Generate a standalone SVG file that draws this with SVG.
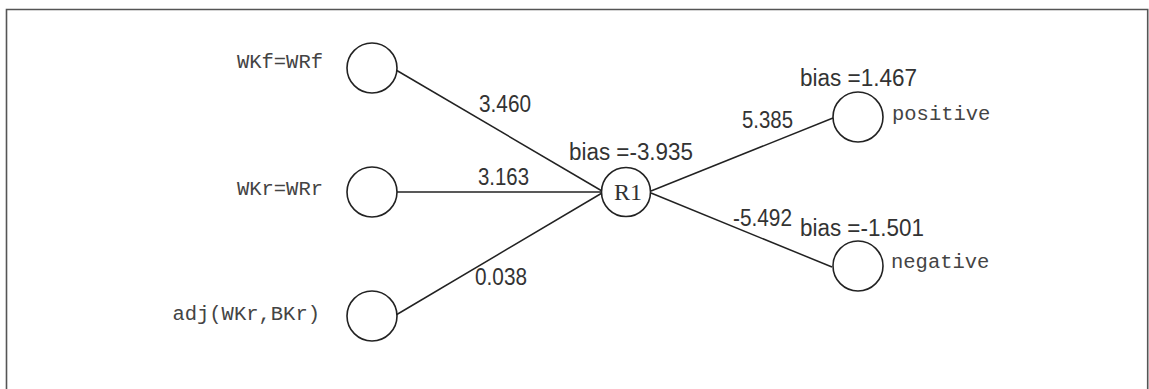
<svg xmlns="http://www.w3.org/2000/svg" width="1149" height="389" viewBox="0 0 1149 389">
  <style>
    .frame { fill: none; stroke: #555; stroke-width: 1.6; }
    .node circle { fill: #fff; stroke: #222; stroke-width: 1.6; }
    .edge { stroke: #222; stroke-width: 1.5; fill: none; }
    .mono { font-family: "Liberation Mono", "Courier New", monospace; font-size: 20.5px; fill: #444; }
    .num { font-family: "Liberation Sans", Arial, sans-serif; font-size: 23.5px; fill: #333; }
    .node-label { font-family: "Liberation Serif", "Times New Roman", serif; font-size: 24px; fill: #333; }
  </style>

  <!-- open frame: top, left and right sides -->
  <path class="frame" d="M6.5,389 V9.5 H1147.7 V389"/>

  <!-- weighted connections -->
  <g id="connectors">
    <line class="edge" x1="396" y1="70" x2="602" y2="191"/>
    <line class="edge" x1="397" y1="192" x2="602" y2="192"/>
    <line class="edge" x1="396" y1="315" x2="602" y2="193"/>
    <line class="edge" x1="651" y1="191" x2="833" y2="118"/>
    <line class="edge" x1="651" y1="193" x2="832" y2="267"/>
    <text class="num" x="479" y="112" textLength="52" lengthAdjust="spacingAndGlyphs">3.460</text>
    <text class="num" x="478" y="185" textLength="51" lengthAdjust="spacingAndGlyphs">3.163</text>
    <text class="num" x="475" y="285" textLength="52" lengthAdjust="spacingAndGlyphs">0.038</text>
    <text class="num" x="742" y="128" textLength="51" lengthAdjust="spacingAndGlyphs">5.385</text>
    <text class="num" x="733" y="226" textLength="59" lengthAdjust="spacingAndGlyphs">-5.492</text>
  </g>

  <!-- input units -->
  <g id="in-wkf" class="node">
    <circle cx="372" cy="68" r="25"/>
    <text class="mono" x="323" y="68" text-anchor="end">WKf=WRf</text>
  </g>
  <g id="in-wkr" class="node">
    <circle cx="372" cy="192" r="25"/>
    <text class="mono" x="323" y="195" text-anchor="end">WKr=WRr</text>
  </g>
  <g id="in-adj" class="node">
    <circle cx="372" cy="316" r="25"/>
    <text class="mono" x="320" y="320" text-anchor="end">adj(WKr,BKr)</text>
  </g>

  <!-- hidden unit -->
  <g id="r1" class="node">
    <circle cx="626" cy="192" r="24.5"/>
    <text class="node-label" x="628" y="200" text-anchor="middle">R1</text>
    <text class="num" x="569" y="160" textLength="124" lengthAdjust="spacingAndGlyphs">bias =-3.935</text>
  </g>

  <!-- output units -->
  <g id="out-positive" class="node">
    <circle cx="858" cy="117" r="25"/>
    <text class="num" x="800" y="86" textLength="117" lengthAdjust="spacingAndGlyphs">bias =1.467</text>
    <text class="mono" x="892" y="120">positive</text>
  </g>
  <g id="out-negative" class="node">
    <circle cx="858" cy="266" r="25"/>
    <text class="num" x="800" y="236" textLength="124" lengthAdjust="spacingAndGlyphs">bias =-1.501</text>
    <text class="mono" x="891" y="268">negative</text>
  </g>
</svg>
